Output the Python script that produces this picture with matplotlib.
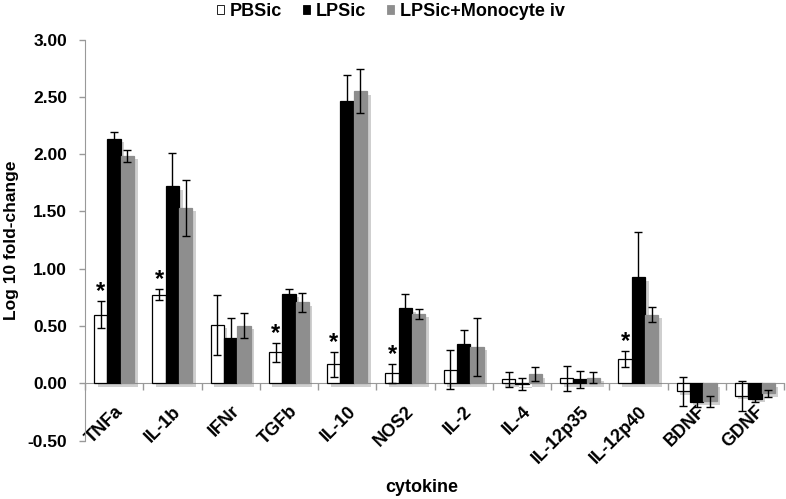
import matplotlib
matplotlib.use("Agg")
import matplotlib.pyplot as plt
import matplotlib.patheffects as pe
import numpy as np

plt.rcParams['font.family'] = ['Liberation Sans', 'DejaVu Sans']
plt.rcParams['font.weight'] = 'bold'

categories = ["TNFa", "IL-1b", "IFNr", "TGFb", "IL-10", "NOS2", "IL-2", "IL-4",
              "IL-12p35", "IL-12p40", "BDNF", "GDNF"]
series_names = ["PBSic", "LPSic", "LPSic+Monocyte iv"]

pbs = [0.60, 0.775, 0.51, 0.27, 0.165, 0.087, 0.12, 0.035, 0.043, 0.21, -0.07, -0.11]
pbs_err = [0.12, 0.05, 0.26, 0.085, 0.11, 0.08, 0.17, 0.065, 0.11, 0.07, 0.13, 0.13]
lps = [2.135, 1.72, 0.40, 0.78, 2.46, 0.657, 0.34, -0.006, 0.035, 0.927, -0.16, -0.136]
lps_err = [0.055, 0.29, 0.17, 0.04, 0.23, 0.125, 0.13, 0.055, 0.075, 0.39, 0.05, 0.03]
mono = [1.985, 1.53, 0.504, 0.707, 2.55, 0.608, 0.318, 0.08, 0.05, 0.60, -0.157, -0.087]
mono_err = [0.055, 0.245, 0.11, 0.085, 0.19, 0.045, 0.25, 0.06, 0.045, 0.066, 0.047, 0.03]
significant = ["TNFa", "IL-1b", "TGFb", "IL-10", "NOS2", "IL-12p40"]

yticks = [-0.5, 0.0, 0.5, 1.0, 1.5, 2.0, 2.5, 3.0]

fig = plt.figure(figsize=(7.86, 4.99), dpi=100)
ax = fig.add_axes([85/786, 1-440.7/499, (784-85)/786, (440.7-39.5)/499])

x = np.arange(len(categories))
w = 0.229
colors = ['white', 'black', '#8e8e8e']
edges = ['black', 'black', '#8e8e8e']
shadow = [pe.SimplePatchShadow(offset=(2.5, -2.5), shadow_rgbFace='#777777', alpha=0.35), pe.Normal()]

handles = []
for i, (vals, errs) in enumerate([(pbs, pbs_err), (lps, lps_err), (mono, mono_err)]):
    pos = x + (i - 1) * w
    bars = ax.bar(pos, vals, width=w, color=colors[i], edgecolor=edges[i], linewidth=0.9,
                  zorder=2, label=series_names[i])
    for b in bars:
        b.set_path_effects(shadow)
    ax.errorbar(pos, vals, yerr=errs, fmt='none', ecolor='black', elinewidth=1.0,
                capsize=3.2, capthick=1.0, zorder=3)
    handles.append(bars)

for c in significant:
    k = categories.index(c)
    ax.text(x[k] - w, pbs[k] + pbs_err[k] + 0.025, '*', ha='center', va='baseline',
            fontsize=17, fontweight='bold', zorder=4)

ax.set_xlim(-0.5, len(categories) - 0.5)
ax.set_ylim(-0.5, 3.0)
ax.set_yticks(yticks)
ax.set_yticklabels([f"{v:.2f}" for v in yticks], fontsize=12.5, fontweight='bold')
ax.tick_params(axis='y', length=4, color='#999999', width=1, pad=9)

ax.spines['top'].set_visible(False)
ax.spines['right'].set_visible(False)
ax.spines['left'].set_color('#999999')
ax.spines['bottom'].set_color('#999999')
ax.spines['bottom'].set_position(('data', 0))
ax.spines['bottom'].set_zorder(1)

ax.set_xticks(x)
ax.set_xticks(np.arange(len(categories) + 1) - 0.5, minor=True)
ax.tick_params(axis='x', which='major', length=0, pad=14)
ax.tick_params(axis='x', which='minor', length=5, color='#999999', width=1)
ax.set_xticklabels(categories, rotation=45, ha='right', va='top', rotation_mode='anchor',
                   fontsize=13, fontweight='bold')
for lbl in ax.get_xticklabels():
    lbl.set_zorder(5)

fig.text(12/786, 1 - 240/499, "Log 10 fold-change", rotation=90, ha='center', va='center',
         fontsize=12.5, fontweight='bold')
fig.text(422/786, 1 - 488/499, "cytokine", ha='center', va='center', fontsize=13,
         fontweight='bold')

leg = fig.legend(handles=handles, labels=series_names, loc='center', bbox_to_anchor=(391/786, 1 - 11/499),
                 ncol=3, frameon=False, prop={'weight': 'bold', 'size': 13},
                 handlelength=0.39, handleheight=0.39, handletextpad=0.33, columnspacing=1.17,
                 borderpad=0, borderaxespad=0)
for h in leg.legend_handles:
    h.set_path_effects([])
    h.set_linewidth(0.6)

fig.savefig("out.png", dpi=100)
